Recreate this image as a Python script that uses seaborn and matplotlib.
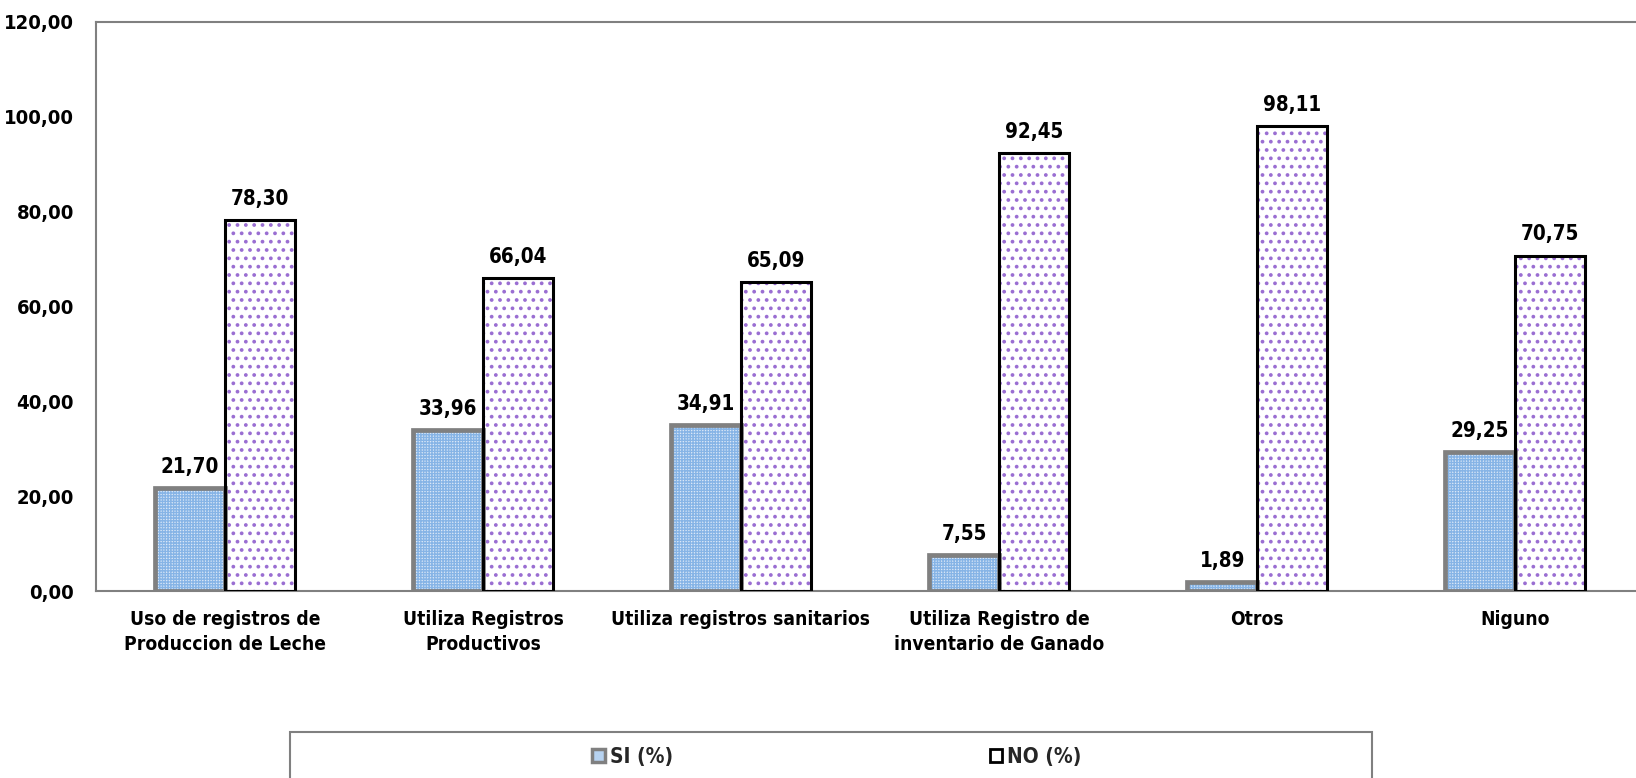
import matplotlib
matplotlib.use("Agg")
import matplotlib.pyplot as plt
from matplotlib.patches import Patch, Rectangle
from matplotlib.ticker import FuncFormatter, MultipleLocator
import seaborn as sns
import pandas as pd

categorias = [
    "Uso de registros de\nProduccion de Leche",
    "Utiliza Registros\nProductivos",
    "Utiliza registros sanitarios",
    "Utiliza Registro de\ninventario de Ganado",
    "Otros",
    "Niguno",
]
si_pct = [21.70, 33.96, 34.91, 7.55, 1.89, 29.25]
no_pct = [78.30, 66.04, 65.09, 92.45, 98.11, 70.75]
series = ["SI (%)", "NO (%)"]

df = pd.DataFrame({
    "categoria": categorias * 2,
    "valor": si_pct + no_pct,
    "serie": [series[0]] * len(categorias) + [series[1]] * len(categorias),
})

sns.set_theme(style="white")
plt.rcParams["font.family"] = ["DejaVu Sans"]
plt.rcParams["font.stretch"] = "condensed"
plt.rcParams["font.weight"] = "bold"
plt.rcParams["hatch.linewidth"] = 1.0

fill_si = "#dbe8f7"
hatch_si = "#86b4e6"
fill_no = "white"
hatch_no = "#9a6ed2"
edge_si = "#808080"
edge_no = "black"

fig = plt.figure(figsize=(16.36, 7.78), dpi=100)
ax = fig.add_axes([96 / 1636, 187 / 778, 1548 / 1636, 569 / 778])

# filled, patterned bars
sns.barplot(data=df, x="categoria", y="valor", hue="serie", order=categorias,
            hue_order=series, palette={series[0]: fill_si, series[1]: fill_no},
            width=0.54, gap=0, saturation=1, linewidth=0, legend=False,
            errorbar=None, ax=ax, zorder=2)
fill_containers = list(ax.containers)
for cont, h, hc, hlw in zip(fill_containers, ["++++++", ".."],
                            [hatch_si, hatch_no], [1.0, 1.5]):
    for bar in cont:
        bar.set_hatch(h)
        bar.set_edgecolor(hc)
        bar.set_linewidth(0)
        if hasattr(bar, "set_hatch_linewidth"):
            bar.set_hatch_linewidth(hlw)

# bar outlines
sns.barplot(data=df, x="categoria", y="valor", hue="serie", order=categorias,
            hue_order=series, palette={series[0]: edge_si, series[1]: edge_no},
            width=0.54, gap=0, saturation=1, fill=False, legend=False,
            errorbar=None, ax=ax, zorder=3)
outline_containers = list(ax.containers)[len(fill_containers):]
for cont, lw in zip(outline_containers, [3.4, 2.2]):
    for bar in cont:
        bar.set_linewidth(lw)

def coma(v, pos=None):
    return f"{v:.2f}".replace(".", ",")

for cont in fill_containers:
    vals = [b.get_height() for b in cont]
    ax.bar_label(cont, labels=[coma(v) for v in vals], padding=8,
                 fontsize=14.8, fontweight="bold", color="black")

ax.set_xlim(-0.5, 5.5)
ax.set_ylim(0, 120)
ax.yaxis.set_major_locator(MultipleLocator(20))
ax.yaxis.set_major_formatter(FuncFormatter(coma))
ax.set_xlabel("")
ax.set_ylabel("")
ax.tick_params(axis="y", length=0, pad=16, labelsize=14.5)
ax.tick_params(axis="x", length=0, pad=14, labelsize=13.8)
for lab in ax.get_xticklabels() + ax.get_yticklabels():
    lab.set_fontweight("bold")
    lab.set_color("black")
for lab in ax.get_xticklabels():
    lab.set_linespacing(1.4)

for side in ["left", "top", "bottom"]:
    ax.spines[side].set_color("#808080")
    ax.spines[side].set_linewidth(1.5)
ax.spines["right"].set_visible(False)
ax.grid(False)

handles = [
    Patch(facecolor="#b7d3f1", edgecolor=edge_si, linewidth=2.5, label=series[0]),
    Patch(facecolor="white", edgecolor=edge_no, linewidth=2.0, label=series[1]),
]
fig.legend(handles=handles, loc="center", bbox_to_anchor=(837 / 1636, 1 - 757 / 778),
           ncol=2, frameon=False, fontsize=15, handlelength=0.6, handleheight=0.6,
           handletextpad=0.25, columnspacing=15.2)
fig.add_artist(Rectangle((290 / 1636, -0.02), 1082 / 1636, 0.02 + 46 / 778,
                         transform=fig.transFigure, fill=False,
                         edgecolor="#808080", linewidth=1.5))

fig.savefig("out.png", dpi=100)
